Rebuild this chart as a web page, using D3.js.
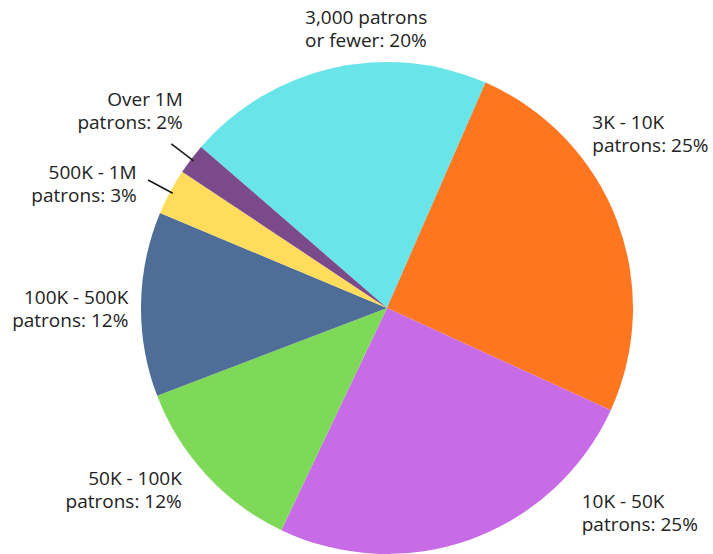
<!DOCTYPE html>
<html>
<head>
<meta charset="utf-8">
<script src="https://cdn.jsdelivr.net/npm/d3@7"></script>
<style>
  html, body { margin: 0; padding: 0; background: #ffffff; }
  svg { display: block; }
  text { font-family: "Open Sans", "Noto Sans", sans-serif; }
</style>
</head>
<body>
<svg id="chart" width="713" height="554"></svg>
<script>
// Share of venues by audience size
const categories = [
  "3,000 patrons\nor fewer",
  "3K - 10K\npatrons",
  "10K - 50K\npatrons",
  "50K - 100K\npatrons",
  "100K - 500K\npatrons",
  "500K - 1M\npatrons",
  "Over 1M\npatrons"
];
const shares = [20, 25, 25, 12, 12, 3, 2];
const colors = ["#69e4e8", "#ff7620", "#c76be6", "#7fd958", "#4e6d97", "#ffdc5c", "#7b4a8b"];

// Label placement: first-line anchor in polar form (degrees clockwise from 12 o'clock, distance from centre)
const labelLayout = [
  { angle: -16.1, dist: 295.6, anchor: "start" },
  { angle: 48.96, dist: 272.2, anchor: "start" },
  { angle: 135.8, dist: 279.3, anchor: "start" },
  { angle: 229.2, dist: 271.1, anchor: "end" },
  { angle: 270.9, dist: 258.7, anchor: "end" },
  { angle: 297.2, dist: 281.4, anchor: "end" },
  { angle: 314.7, dist: 287.3, anchor: "end" }
];

const W = 713, H = 554;
const cx = 387, cy = 308, radius = 246;
const startDeg = -49.1;
const fontSize = 19, lineHeight = 23;

const svg = d3.select("#chart");
const g = svg.append("g").attr("transform", `translate(${cx},${cy})`);

const data = categories.map((c, i) => ({ name: c, value: shares[i], color: colors[i], layout: labelLayout[i] }));

const rad = d => d * Math.PI / 180;
const pie = d3.pie()
  .sort(null)
  .value(d => d.value)
  .startAngle(rad(startDeg))
  .endAngle(rad(startDeg) + 2 * Math.PI);

const arcs = pie(data);
const arc = d3.arc().innerRadius(0).outerRadius(radius);

g.selectAll("path.slice")
  .data(arcs)
  .join("path")
  .attr("class", "slice")
  .attr("d", arc)
  .attr("fill", d => d.data.color);

const polar = (a, r) => [r * Math.sin(a), -r * Math.cos(a)];

// Leader lines for the thin slices
g.selectAll("line.leader")
  .data(arcs.filter(d => d.data.value < 5))
  .join("line")
  .attr("class", "leader")
  .each(function (d) {
    const mid = (d.startAngle + d.endAngle) / 2;
    const [x1, y1] = polar(mid, radius - 3);
    const [x2, y2] = polar(mid, radius + 25);
    d3.select(this).attr("x1", x1).attr("y1", y1).attr("x2", x2).attr("y2", y2);
  })
  .attr("stroke", "#1a1a1a")
  .attr("stroke-width", 1.6);

// Two-line labels
const labels = g.selectAll("text.label")
  .data(arcs)
  .join("text")
  .attr("class", "label")
  .attr("font-size", fontSize)
  .attr("fill", "#222222")
  .attr("text-anchor", d => d.data.layout.anchor)
  .each(function (d) {
    const [x, y] = polar(rad(d.data.layout.angle), d.data.layout.dist);
    const lines = (d.data.name + ": " + d.data.value + "%").split("\n");
    d3.select(this).selectAll("tspan")
      .data(lines)
      .join("tspan")
      .attr("x", x)
      .attr("y", (t, i) => y + i * lineHeight)
      .text(t => t);
  });
</script>
</body>
</html>
